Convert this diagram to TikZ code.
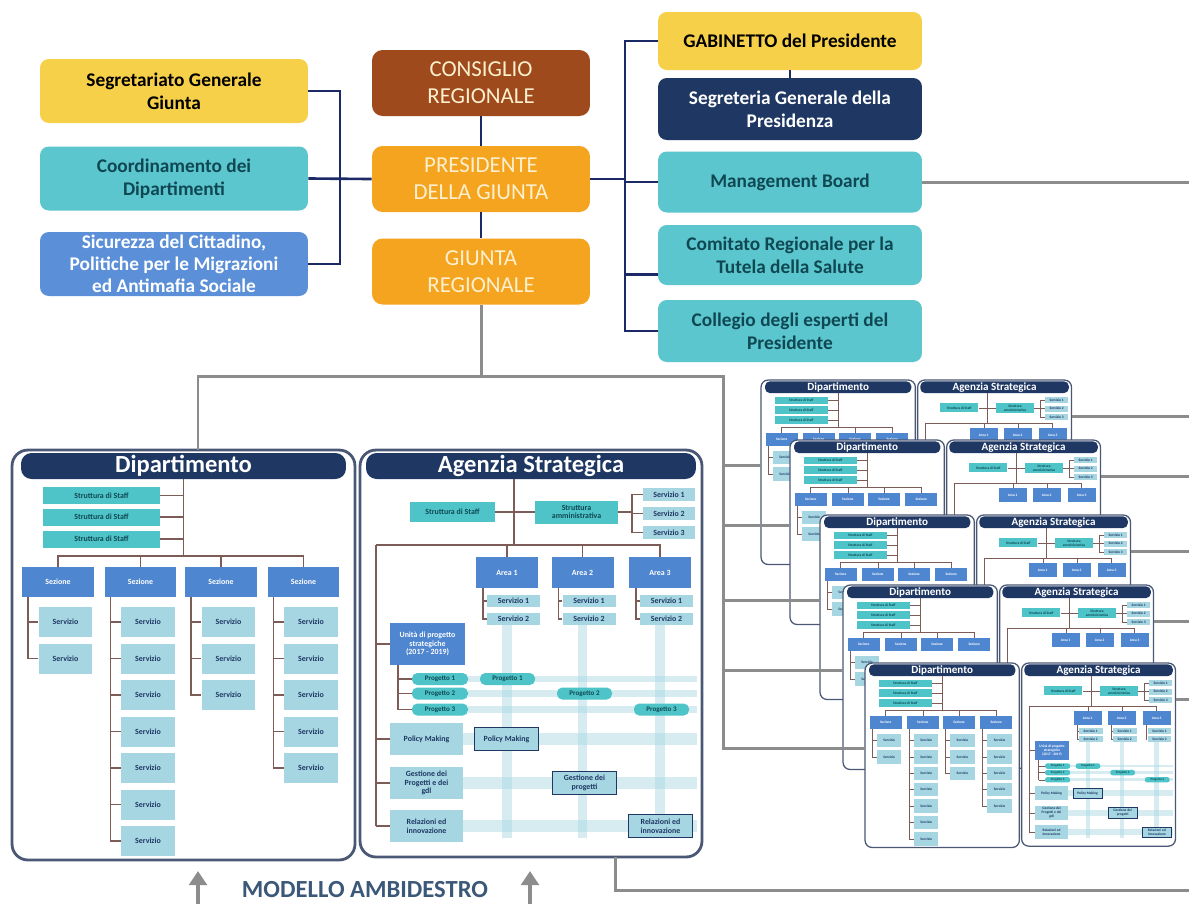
\documentclass[tikz,border=0pt]{standalone}
\usepackage{fontspec}
\setmainfont{Carlito}
\usepackage{xcolor}
\usetikzlibrary{positioning,calc,arrows.meta}

\definecolor{gold}{HTML}{F7D04A}
\definecolor{rust}{HTML}{9E4A1C}
\definecolor{amber}{HTML}{F5A420}
\definecolor{aqua}{HTML}{5CC6CF}
\definecolor{azure}{HTML}{5B8FD8}
\definecolor{navy}{HTML}{1E3763}
\definecolor{wire}{HTML}{1B2A66}
\definecolor{feedgray}{HTML}{8C8C8C}
\definecolor{slate}{HTML}{4A5875}
\definecolor{sezblue}{HTML}{4F86D0}
\definecolor{servblue}{HTML}{A6D6E2}
\definecolor{staffaqua}{HTML}{4EC4C9}
\definecolor{tealtext}{HTML}{0F4852}
\definecolor{cream}{HTML}{FDF0CF}
\definecolor{ambitext}{HTML}{3B5878}
\definecolor{pipe}{HTML}{7D5C58}

\def\pk{1}
% Dipartimento + Agenzia Strategica pair: #1 prefix, #2 origin, #3 scale, #4 full (1) or covered (0)
\newcommand{\ambipair}[4]{%
\begin{scope}[shift={#2}, scale=#3, transform shape]
\def\pk{#3}
\coordinate (#1-top) at (186,0);
\coordinate (#1-in) at (0,190);
\coordinate (#1-out) at (690,80);
\coordinate (#1-bot) at (603,407);

% Dipartimento
\node[panel, minimum width=6.86cm, minimum height=8.2cm] (#1-dip) at (171.5,205) {};
\node[bar, minimum width=6.5cm, minimum height=0.52cm] (#1-diph) at (171.5,16) {Dipartimento};
\coordinate (#1-bus) at (171.5,106);
\draw[pipe] (#1-diph.south) -- (#1-bus);
\foreach \row/\y in {1/45.5,2/67,3/89} {
    \node[staff, minimum width=2.34cm, minimum height=0.34cm] (#1-st\row) at (89.5,\y) {Struttura di Staff};
    \draw[pipe] (#1-st\row.east) -- (#1-st\row.east -| #1-diph.south);
}
\foreach \col/\x/\n/\m in {1/46/2/2, 2/128.5/7/0, 3/209/3/0, 4/291.5/5/0} {
    \node[sez, minimum width=1.44cm, minimum height=0.6cm] (#1-z\col) at (\x,132) {Sezione};
    \draw[pipe] (#1-z\col.north) |- (#1-bus);
    \coordinate (#1-k\col) at ({\x-30},147);
    \ifnum#4=1 \edef\nn{\n}\else\edef\nn{\m}\fi
    \ifnum\nn>0
    \foreach \row in {1,...,\nn} {
        \node[serv, minimum width=1.08cm, minimum height=0.6cm] (#1-v\col-\row) at ({\x+7.5},{135.5+36.5*\row}) {Servizio};
        \draw[pipe] (#1-k\col) |- (#1-v\col-\row.west);
    }
    \fi
}

% Agenzia Strategica
\node[panel, minimum width=6.84cm, minimum height=8.14cm] (#1-age) at (519,203.5) {};
\ifnum#4=1
\foreach \x in {495,570.5,648} \draw[band] (\x,175) -- (\x,388);
\foreach \y in {229,243.5,259.5} \draw[band, line width=\pk*3.5pt] (456,\y) -- (685,\y);
\foreach \y in {289,333,376} \draw[band, line width=\pk*7pt] (451,\y) -- (685,\y);
\fi
\node[bar, minimum width=6.6cm, minimum height=0.52cm] (#1-ageh) at (519,16) {Agenzia Strategica};
\coordinate (#1-abus) at (502,95);
\draw[pipe] (#1-ageh.south -| #1-abus) -- (#1-abus);
\node[staff, minimum width=1.7cm, minimum height=0.4cm] (#1-ast) at (440.5,62) {Struttura di Staff};
\node[staff, minimum width=1.66cm, minimum height=0.46cm] (#1-aam) at (564.5,62) {Struttura\\amministrativa};
\draw[pipe] (#1-ast) -- (#1-aam);
\coordinate (#1-aj) at (620,62);
\draw[pipe] (#1-aam) -- (#1-aj);
\foreach \row/\y in {1/44.5,2/63.5,3/82.5} {
    \node[serv, minimum width=1.04cm, minimum height=0.26cm] (#1-ss\row) at (657,\y) {Servizio \row};
    \draw[pipe] (#1-aj) |- (#1-ss\row.west);
}
\coordinate (#1-al) at (364,95);
\coordinate (#1-ab) at (364,376);
\draw[pipe] (#1-al) -- (#1-abus);
\draw[pipe] (#1-al) -- (#1-ab);
\foreach \col/\x in {1/495,2/570.5,3/648} {
    \node[sez, minimum width=1.24cm, minimum height=0.62cm] (#1-ar\col) at (\x,122.5) {Area \col};
    \draw[pipe] (#1-ar\col.north) |- (#1-abus);
}
\ifnum#4=1
\foreach \col/\x in {1/495,2/570.5,3/648} {
    \coordinate (#1-ak\col) at ({\x-24},138);
    \foreach \row/\y in {1/151,2/169} {
        \node[serv, minimum width=1.06cm, minimum height=0.24cm] (#1-as\col-\row) at ({\x+6.5},\y) {Servizio \row};
        \draw[pipe] (#1-ak\col) |- (#1-as\col-\row.west);
    }
}
\node[sez, minimum width=1.5cm, minimum height=0.84cm] (#1-grp) at (415.5,194) {Unità di progetto\\strategiche\\(2017 - 2019)};
\draw[pipe] (#1-al |- #1-grp.west) -- (#1-grp.west);
\coordinate (#1-ps) at (386,259.5);
\draw[pipe] (#1-grp.south -| #1-ps) -- (#1-ps);
\foreach \row/\y/\x in {1/229/495.5, 2/243.5/572.5, 3/259.5/649.5} {
    \node[pill, minimum width=1.12cm, minimum height=0.24cm] (#1-pa\row) at (428,\y) {Progetto \row};
    \node[pill, minimum width=1.1cm, minimum height=0.24cm] (#1-pb\row) at (\x,\y) {Progetto \row};
    \draw[pipe] (#1-ps |- #1-pa\row.west) -- (#1-pa\row.west);
}
\foreach \row/\y/\x/\t/\u in {1/289/494.5/{Policy Making}/{Policy Making},
        2/333/572.5/{Gestione dei\\Progetti e dei\\gdl}/{Gestione dei\\progetti},
        3/376/648.5/{Relazioni ed\\innovazione}/{Relazioni ed\\innovazione}} {
    \node[serv, minimum width=1.46cm, minimum height=0.64cm] (#1-lb\row) at (414.5,\y) {\t};
    \node[outl, minimum width=1.28cm, minimum height=0.45cm] (#1-ob\row) at (\x,\y) {\u};
    \draw[pipe] (#1-al |- #1-lb\row.west) -- (#1-lb\row.west);
}
\fi
\end{scope}}

\begin{document}
\begin{tikzpicture}[x=0.02cm, y=-0.02cm,
    topbox/.style={rectangle, rounded corners=5pt, minimum width=5.36cm, minimum height=1.28cm, align=center, inner sep=1pt, font=\fontsize{11}{13}\selectfont\bfseries},
    chief/.style={rectangle, rounded corners=6pt, minimum width=4.36cm, minimum height=1.32cm, align=center, text=cream, font=\fontsize{13}{15.5}\selectfont},
    wire/.style={draw=wire, line width=1.5pt},
    feed/.style={draw=feedgray, line width=1.7pt},
    panel/.style={rectangle, draw=slate, fill=white, line width=\pk*1.6pt, rounded corners=\pk*9pt},
    bar/.style={rectangle, fill=navy, rounded corners=\pk*6pt, text=white, inner sep=0pt, font=\fontsize{14}{16}\selectfont\bfseries},
    pipe/.style={draw=pipe, line width=\pk*0.6pt},
    staff/.style={rectangle, fill=staffaqua, text=tealtext, inner sep=0.5pt, align=center, font=\fontsize{4.5}{5}\selectfont\bfseries},
    sez/.style={rectangle, fill=sezblue, text=white, inner sep=0.5pt, align=center, font=\fontsize{4.5}{5}\selectfont\bfseries},
    serv/.style={rectangle, fill=servblue, text=navy, inner sep=0.5pt, align=center, font=\fontsize{4.5}{5}\selectfont\bfseries},
    pill/.style={rectangle, fill=staffaqua, rounded corners=\pk*3pt, text=tealtext, inner sep=0.5pt, font=\fontsize{4}{5}\selectfont\bfseries},
    outl/.style={serv, draw=navy, line width=\pk*0.8pt},
    band/.style={draw=servblue, line width=\pk*5.5pt, opacity=0.45},
    uparrow/.style={-{Triangle[width=10pt,length=8pt]}, draw=feedgray, line width=2.4pt}
]
\useasboundingbox (0,0) rectangle (1189,904);
\fill[white] (0,0) rectangle (1189,904);

% Staff of the Presidente
\node[topbox, fill=gold] (segr) at (174,91) {Segretariato Generale\\Giunta};
\node[topbox, fill=aqua, text=tealtext] (coord) at (174,178.5) {Coordinamento dei\\Dipartimenti};
\node[topbox, fill=azure, text=white, inner sep=0pt, font=\fontsize{11}{12.5}\selectfont\bfseries] (sicur) at (174,264) {Sicurezza del Cittadino,\\Politiche per le Migrazioni\\ed Antimafia Sociale};

% Top level
\node[chief, fill=rust] (consiglio) at (481,83) {CONSIGLIO\\REGIONALE};
\node[chief, fill=amber] (presid) at (481,179) {PRESIDENTE\\DELLA GIUNTA};
\node[chief, fill=amber] (giunta) at (481,271.5) {GIUNTA\\REGIONALE};

\node[topbox, fill=gold, minimum width=5.28cm, minimum height=1.16cm] (gab) at (790,41) {GABINETTO del Presidente};
\node[topbox, fill=navy, text=white, minimum width=5.28cm, minimum height=1.24cm] (segpres) at (790,109) {Segreteria Generale della\\Presidenza};
\node[topbox, fill=aqua, text=tealtext, minimum width=5.28cm, minimum height=1.22cm] (mboard) at (790,182) {Management Board};
\node[topbox, fill=aqua, text=tealtext, minimum width=5.28cm, minimum height=1.2cm] (comit) at (790,255) {Comitato Regionale per la\\Tutela della Salute};
\node[topbox, fill=aqua, text=tealtext, minimum width=5.28cm, minimum height=1.24cm] (colleg) at (790,331) {Collegio degli esperti del\\Presidente};

% Connectors
\coordinate (lj) at (340,178.5);
\coordinate (rj) at (625,179);
\coordinate (ct) at ([yshift=-11pt]comit.west);
\draw[wire] (segr.east) -| (lj) |- (sicur.east);
\draw[wire] (coord.east) -- (presid.west);
\draw[wire] (consiglio) -- (presid);
\draw[wire] (presid) -- (giunta);
\draw[wire] (gab.west) -| (rj) |- (colleg.west);
\draw[wire] (presid.east) -- (rj);
\draw[wire] (rj |- mboard.west) -- (mboard.west);
\draw[wire] (rj |- ct) -- (ct);
\draw[wire] (gab) -- (segpres);

\coordinate (busT) at (723,376);
\coordinate (edge) at (1189,0);
\coordinate (botR) at (1189,890);
\draw[feed] (mboard.east) -- (mboard.east -| edge);
\draw[feed] (giunta.south) -- (giunta.south |- busT);

% Modello ambidestro and its copies
\ambipair{B}{(12,450)}{1}{1}
\ambipair{c1}{(761,380)}{0.45}{0}
\ambipair{c2}{(790,440)}{0.45}{0}
\ambipair{c3}{(820,515)}{0.45}{0}
\ambipair{c4}{(843,585)}{0.45}{0}
\ambipair{c5}{(865,663)}{0.45}{1}

\draw[feed] (B-top) |- (busT) |- (c5-in);
\foreach \k in {1,...,4} \draw[feed] (busT |- c\k-in) -- (c\k-in);
\foreach \k in {1,...,5} \draw[feed] (c\k-out) -- (c\k-out -| edge);
\draw[feed] (B-bot) |- (botR);

\node[text=ambitext, font=\fontsize{14}{16}\selectfont\bfseries] (ambi) at (365,889) {MODELLO AMBIDESTRO};
\coordinate (ar1) at (198,904);
\coordinate (ar2) at (530,904);
\draw[uparrow] (ar1) -- ++(0,-33);
\draw[uparrow] (ar2) -- ++(0,-33);

\end{tikzpicture}
\end{document}
